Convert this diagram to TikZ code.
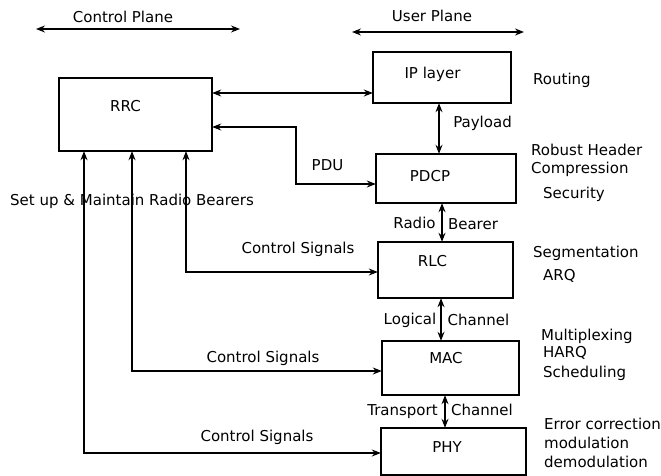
\documentclass[tikz,border=0pt]{standalone}
\usepackage{fontspec}
\setmainfont{DejaVu Sans}
\usetikzlibrary{arrows.meta}
\begin{document}
\begin{tikzpicture}[x=1pt,y=-1pt,
  every node/.style={font=\fontsize{15}{17}\selectfont, inner sep=0pt},
  layer/.style={draw, line width=1.2pt},
  lbl/.style={anchor=base},
  note/.style={anchor=base west},
  link/.style={line width=1.1pt},
  tip/.tip={Stealth[length=9pt,width=7pt,inset=3pt]},
  both/.style={link, tip-tip},
  into/.style={link, -tip}]
\useasboundingbox (0,0) rectangle (661,476);

% plane ranges
\coordinate (cpl) at (36,29);  \coordinate (cpr) at (240,29);
\coordinate (upl) at (352,32); \coordinate (upr) at (524,32);
\draw[both] (cpl) -- (cpr);
\draw[both] (upl) -- (upr);
\node[lbl] (cptxt) at (123,23) {Control Plane};
\node[lbl] (uptxt) at (432,22) {User Plane};

% protocol layers
\path[layer] (59,78) rectangle (212,151);
\node (rrc) [minimum width=153pt, minimum height=73pt] at (135.5,114.5) {};
\node[lbl] (rrctxt) at (125.5,112) {RRC};

\path[layer] (373,52) rectangle (511,103);
\node (ip) [minimum width=138pt, minimum height=51pt] at (442,77.5) {};
\node[lbl] (iptxt) at (432.5,79) {IP layer};

\path[layer] (376,154) rectangle (516,203);
\node (pdcp) [minimum width=140pt, minimum height=49pt] at (446,178.5) {};
\node[lbl] (pdcptxt) at (430,181) {PDCP};

\path[layer] (378,242) rectangle (513,298);
\node (rlc) [minimum width=135pt, minimum height=56pt] at (445.5,270) {};
\node[lbl] (rlctxt) at (432.5,266) {RLC};

\path[layer] (382,341) rectangle (519,395);
\node (mac) [minimum width=137pt, minimum height=54pt] at (450.5,368) {};
\node[lbl] (mactxt) at (446,363) {MAC};

\path[layer] (381,428) rectangle (526,475);
\node (phy) [minimum width=145pt, minimum height=47pt] at (453.5,451.5) {};
\node[lbl] (phytxt) at (447,452) {PHY};

% user-plane stack links
\draw[both] (rrc.east |- 0,93) -- (ip.west |- 0,93);
\draw[both] (ip.south -| 439,0) -- (pdcp.north -| 439,0);
\draw[both] (pdcp.south -| 442,0) -- (rlc.north -| 442,0);
\draw[both] (rlc.south -| 441,0) -- (mac.north -| 441,0);
\draw[both] (mac.south -| 445,0) -- (phy.north -| 445,0);

% PDU path from PDCP back to RRC
\coordinate (pdua) at (296,127);
\coordinate (pdub) at (296,184);
\draw[link, tip-tip] (rrc.east |- pdua) -- (pdua) -- (pdub) -- (pdcp.west |- pdub);

% control signals from RRC to the lower layers
\coordinate (csr) at (186,272);
\coordinate (csm) at (132,371);
\coordinate (csp) at (84,453);
\draw[link, tip-tip] (rrc.south -| csr) -- (csr) -- (rlc.west |- csr);
\draw[link, tip-tip] (rrc.south -| csm) -- (csm) -- (mac.west |- csm);
\draw[link, tip-tip] (rrc.south -| csp) -- (csp) -- (phy.west |- csp);

% link labels
\node[lbl] (pdutxt) at (327.5,171) {PDU};
\node[lbl] (paytxt) at (482.5,128) {Payload};
\node[lbl] (radtxt) at (414.5,228) {Radio};
\node[lbl] (beatxt) at (473,229) {Bearer};
\node[lbl] (logtxt) at (410,324) {Logical};
\node[lbl] (lchtxt) at (478.5,325) {Channel};
\node[lbl] (trntxt) at (402.5,415) {Transport};
\node[lbl] (tchtxt) at (482,415) {Channel};
\node[lbl] (cs1) at (298,253) {Control Signals};
\node[lbl] (cs2) at (263,362) {Control Signals};
\node[lbl] (cs3) at (257,441) {Control Signals};
\node[note] (setup) at (10,205) {Set up \& Maintain Radio Bearers};

% layer functions
\node[note] (f1) at (533,85) {Routing};
\node[note] (f2) at (531,155) {Robust Header};
\node[note] (f3) at (531,173) {Compression};
\node[note] (f4) at (543,198) {Security};
\node[note] (f5) at (533,257) {Segmentation};
\node[note] (f6) at (543,280) {ARQ};
\node[note] (f7) at (541,340) {Multiplexing};
\node[note] (f8) at (543,357) {HARQ};
\node[note] (f9) at (543,377) {Scheduling};
\node[note] (f10) at (544,429) {Error correction};
\node[note] (f11) at (544,448) {modulation};
\node[note] (f12) at (544,467) {demodulation};
\end{tikzpicture}
\end{document}
